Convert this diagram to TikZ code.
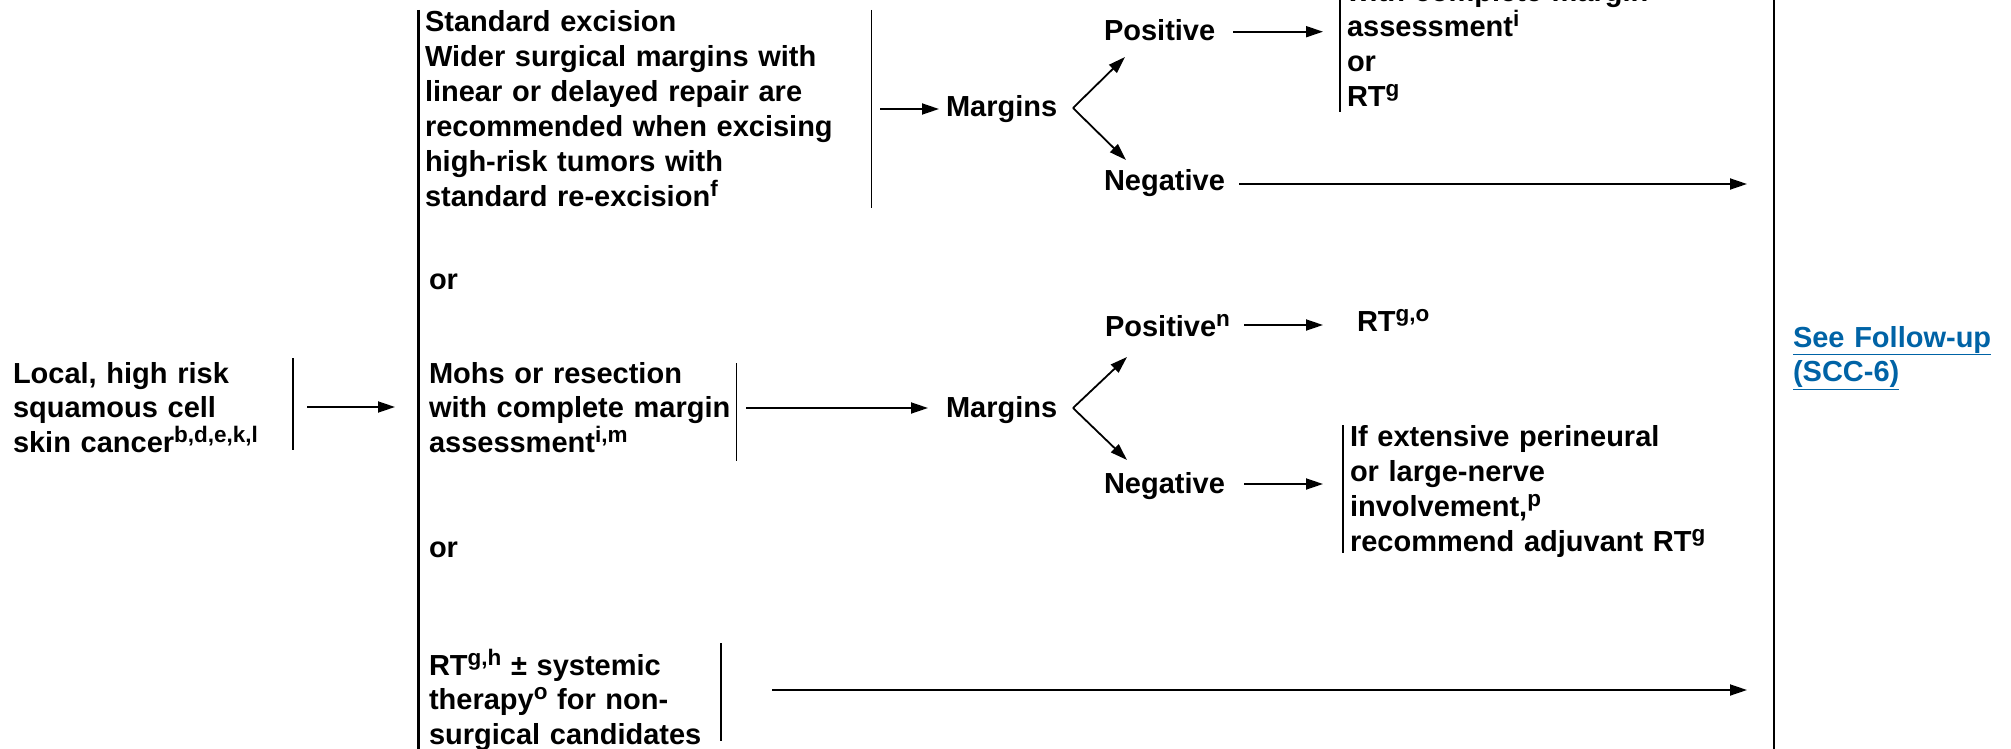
\documentclass[tikz,border=0pt]{standalone}
\usepackage{fontspec}
\setmainfont{Liberation Sans}
\usetikzlibrary{arrows.meta}
\definecolor{linkblue}{RGB}{0,99,166}
\newcommand\supx[1]{\raisebox{10pt}{\fontsize{22.5}{22.5}\selectfont #1}}
\begin{document}
\begin{tikzpicture}[x=1pt,y=-1pt,
  txt/.style={font=\fontsize{29}{34.5}\selectfont\bfseries, inner sep=0pt, outer sep=0pt,
              align=left, text width=#1, anchor=base west},
  txt/.default=440pt,
  wide/.style={font=\fontsize{29}{35}\selectfont\bfseries},
  word/.style={font=\fontsize{29}{34.5}\selectfont\bfseries, inner sep=0pt, outer sep=0pt, anchor=base west},
  bigbar/.style={line width=2.4pt},
  bar/.style={line width=1.8pt},
  arr/.style={line width=1.8pt, -{Triangle[length=17pt,width=11pt]}},
]
\clip (0,0) rectangle (2011,749);

% ---------- entry ----------
\node[txt=280pt] (local) at (13,383) {Local, high risk\\squamous cell\\skin cancer\supx{b,d,e,k,l}};
\coordinate (lbarT) at (293,358); \coordinate (lbarB) at (293,450);
\draw[bar] (lbarT) -- (lbarB);
\coordinate (la) at (307,407); \coordinate (lb) at (395,407);
\draw[arr] (la) -- (lb);

% main bracket
\coordinate (mainT) at (418.5,10); \coordinate (mainB) at (418.5,760);
\draw[bigbar] (mainT) -- (mainB);

% ---------- standard excision ----------
\node[txt, wide] (std) at (425,31.7) {Standard excision\\Wider surgical margins with\\linear or delayed repair are\\recommended when excising\\high-risk tumors with\\standard re-excision\supx{f}};
\coordinate (sbarT) at (871.5,10); \coordinate (sbarB) at (871.5,208);
\draw[bar] (sbarT) -- (sbarB);
\coordinate (sa) at (880,109); \coordinate (sb) at (939,109);
\draw[arr] (sa) -- (sb);

\node[word] (marg1) at (946,117) {Margins};
\coordinate (v1) at (1073,108);
\coordinate (v1up) at (1125,57);
\coordinate (v1dn) at (1126,160);
\draw[arr] (v1) -- (v1up);
\draw[arr] (v1) -- (v1dn);

\node[word] (pos1) at (1104,40.7) {Positive};
\coordinate (p1a) at (1233,31.7); \coordinate (p1b) at (1323,31.7);
\draw[arr] (p1a) -- (p1b);

\node[txt=400pt, wide] (reex) at (1347,1.7) {with complete margin\\assessment\supx{i}\\or\\RT\supx{g}};
\coordinate (rbarT) at (1340,-5); \coordinate (rbarB) at (1340,112);
\draw[bar] (rbarT) -- (rbarB);

\node[word] (neg1) at (1104,190.7) {Negative};
\coordinate (n1a) at (1239,184); \coordinate (n1b) at (1747,184);
\draw[arr] (n1a) -- (n1b);

% ---------- or ----------
\node[word] (or1) at (429,289) {or};
\node[word] (or2) at (429,557) {or};

% ---------- Mohs ----------
\node[txt] (mohs) at (429,383) {Mohs or resection\\with complete margin\\assessment\supx{i,m}};
\coordinate (mbarT) at (736.5,363); \coordinate (mbarB) at (736.5,461);
\draw[bar] (mbarT) -- (mbarB);
\coordinate (ma) at (746,408); \coordinate (mb) at (928,408);
\draw[arr] (ma) -- (mb);

\node[word] (marg2) at (946,417) {Margins};
\coordinate (v2) at (1073,408);
\coordinate (v2up) at (1127,357);
\coordinate (v2dn) at (1127,460);
\draw[arr] (v2) -- (v2up);
\draw[arr] (v2) -- (v2dn);

\node[word] (pos2) at (1105,336) {Positive\supx{n}};
\coordinate (p2a) at (1244,325); \coordinate (p2b) at (1323,325);
\draw[arr] (p2a) -- (p2b);
\node[word] (rtgo) at (1357,331) {RT\supx{g,o}};

\node[word] (neg2) at (1104,493) {Negative};
\coordinate (n2a) at (1244,484); \coordinate (n2b) at (1323,484);
\draw[arr] (n2a) -- (n2b);

\node[txt=420pt, wide] (adj) at (1350,446) {If extensive perineural\\or large-nerve\\involvement,\supx{p}\\recommend adjuvant RT\supx{g}};
\coordinate (abarT) at (1343,425); \coordinate (abarB) at (1343,553);
\draw[bar] (abarT) -- (abarB);

% ---------- radiation ----------
\node[txt] (rt) at (429,675) {RT\supx{g,h} ± systemic\\therapy\supx{o} for non-\\surgical candidates};
\coordinate (tbarT) at (721,643); \coordinate (tbarB) at (721,741);
\draw[bar] (tbarT) -- (tbarB);
\coordinate (ta) at (772,690); \coordinate (tb) at (1747,690);
\draw[arr] (ta) -- (tb);

% ---------- follow-up ----------
\coordinate (fT) at (1774,-5); \coordinate (fB) at (1774,760);
\draw[bigbar] (fT) -- (fB);
\node[txt=215pt, text=linkblue] (follow) at (1793,347) {\underline{See Follow-up}\\\underline{(SCC-6)}};
\end{tikzpicture}
\end{document}
